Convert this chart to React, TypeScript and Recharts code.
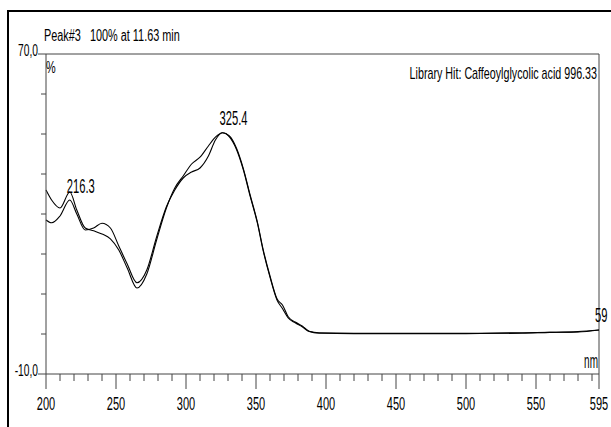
import React from 'react';
import { LineChart, Line, XAxis, YAxis, ReferenceLine, ReferenceDot } from 'recharts';

// wavelengths (nm) sampled along the two spectra
const WAVELENGTHS = [200, 204, 210, 217, 222, 228, 234, 240, 246, 252, 258, 265, 272, 279, 286, 292, 298, 304, 310, 316, 321, 326, 331, 336, 341, 346, 351, 355, 360, 365, 369, 373, 378, 383, 388, 395, 420, 460, 500, 540, 560, 580, 595];
const SAMPLE = [36, 33.5, 31.5, 35.5, 31, 26.5, 25.8, 25, 23.8, 21, 16.5, 11.5, 15, 23.5, 31.5, 36.5, 39.5, 42.5, 44.2, 47, 49.2, 50.3, 49.3, 46.2, 41, 34.2, 27.7, 21, 14.2, 8.5, 6.3, 4, 2.8, 1.8, 0.6, 0.2, 0.1, 0.1, 0.1, 0.2, 0.4, 0.5, 1.0];
const LIBRARY = [28.5, 27.8, 29.5, 33.5, 30, 26, 26.5, 27.7, 26.5, 22, 17.5, 12.8, 16, 24.3, 31.8, 36, 39, 40.5, 41.5, 44.5, 48.5, 50.3, 49.5, 46.5, 41.3, 34.5, 28, 21.3, 14.5, 8.8, 7.2, 4.3, 3, 2, 0.7, 0.3, 0.2, 0.2, 0.2, 0.3, 0.4, 0.6, 1.0];

const X_TICKS = [200, 210, 220, 230, 240, 250, 260, 270, 280, 290, 300, 310, 320, 330, 340, 350, 360, 370, 380, 390, 400, 410, 420, 430, 440, 450, 460, 470, 480, 490, 500, 510, 520, 530, 540, 550, 560, 570, 580, 590, 595];
const X_LABELS = [200, 250, 300, 350, 400, 450, 500, 550, 595];
const Y_TICKS = [-10, 0, 10, 20, 30, 40, 50, 60, 70];
const Y_LABELS = [-10, 70];

const PEAKS = [
  { nm: 216.3, value: 35.6, dx: 12, dy: 1 },
  { nm: 325.4, value: 50.3, dx: 12, dy: -8 },
];

const data = WAVELENGTHS.map((nm, i) => ({ nm, sample: SAMPLE[i], library: LIBRARY[i] }));

const FONT = 'Liberation Sans, Arial, sans-serif';
const AXIS = '#444';

function NText({ x, y, size, sx, anchor = 'start', children }: any) {
  return (
    <text
      transform={`translate(${x},${y}) scale(${sx},1)`}
      fontSize={size}
      fontFamily={FONT}
      textAnchor={anchor}
      fill="#000"
      style={{ whiteSpace: 'pre' }}
    >
      {children}
    </text>
  );
}

const XTick = ({ x, y, payload }: any) => {
  const major = X_LABELS.includes(payload.value);
  return (
    <g>
      <line x1={x} x2={x} y1={y} y2={y + (major ? 15 : 7)} stroke={AXIS} />
      {major && <NText x={x} y={y + 36} size={19} sx={0.58} anchor="middle">{payload.value}</NText>}
    </g>
  );
};

const YTick = ({ x, y, payload }: any) => {
  const major = Y_LABELS.includes(payload.value);
  return (
    <g>
      <line x1={x - (major ? 8 : 5)} x2={x} y1={y} y2={y} stroke={AXIS} />
      {major && (
        <NText x={x - 8} y={y + 2} size={16} sx={0.64} anchor="end">
          {payload.value.toFixed(1).replace('.', ',')}
        </NText>
      )}
    </g>
  );
};

export default function App() {
  return (
    <div style={{ position: 'absolute', left: 0, top: 0, width: 611, height: 427, background: '#fff' }}>
      <div style={{ position: 'absolute', left: 7, top: 10, width: 602, height: 417, borderLeft: '2px solid #000', borderTop: '2px solid #000' }} />
      <LineChart width={611} height={427} data={data} margin={{ top: 54, right: 12, bottom: 13, left: 0 }}>
        <XAxis
          dataKey="nm"
          type="number"
          domain={[200, 595]}
          ticks={X_TICKS}
          interval={0}
          height={40}
          tickSize={0}
          tickMargin={0}
          tickLine={false}
          axisLine={{ stroke: AXIS }}
          tick={<XTick />}
        />
        <YAxis
          type="number"
          domain={[-10, 70]}
          ticks={Y_TICKS}
          interval={0}
          width={46}
          tickSize={0}
          tickMargin={0}
          tickLine={false}
          axisLine={{ stroke: AXIS }}
          tick={<YTick />}
        />
        <ReferenceLine y={70} stroke={AXIS} />
        <ReferenceLine x={595} stroke={AXIS} />
        <Line type="monotone" dataKey="library" stroke="#000" strokeWidth={1.1} dot={false} isAnimationActive={false} />
        <Line type="monotone" dataKey="sample" stroke="#000" strokeWidth={1.1} dot={false} isAnimationActive={false} />
        {PEAKS.map((p) => (
          <ReferenceDot
            key={p.nm}
            x={p.nm}
            y={p.value}
            r={0}
            stroke="none"
            label={(props: any) => (
              <NText x={props.viewBox.x + p.dx} y={props.viewBox.y + p.dy} size={20} sx={0.56} anchor="middle">
                {p.nm.toFixed(1)}
              </NText>
            )}
          />
        ))}
        <ReferenceDot
          x={595}
          y={SAMPLE[SAMPLE.length - 1]}
          r={0}
          stroke="none"
          label={(props: any) => (
            <NText x={props.viewBox.x - 4} y={props.viewBox.y - 8} size={20} sx={0.56}>59</NText>
          )}
        />
      </LineChart>
      <svg width={611} height={427} style={{ position: 'absolute', left: 0, top: 0, pointerEvents: 'none' }}>
        <NText x={44} y={41} size={16} sx={0.68}>{'Peak#3   100% at 11.63 min'}</NText>
        <NText x={46} y={73} size={16} sx={0.68}>%</NText>
        <NText x={597} y={79} size={16} sx={0.67} anchor="end">Library Hit: Caffeoylglycolic acid 996.33</NText>
        <NText x={598} y={368} size={20} sx={0.5} anchor="end">nm</NText>
      </svg>
    </div>
  );
}
